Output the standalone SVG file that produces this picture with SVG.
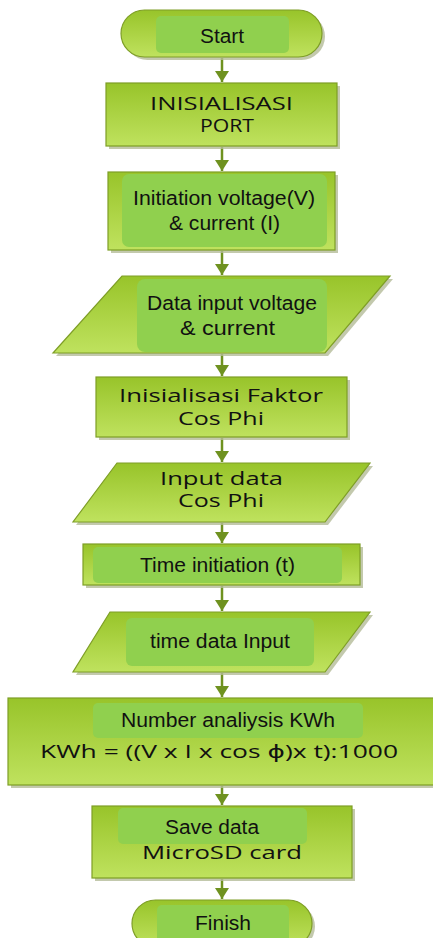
<svg xmlns="http://www.w3.org/2000/svg" width="433" height="938" viewBox="0 0 433 938">
<defs>
<linearGradient id="g" x1="0" y1="0" x2="0" y2="1">
<stop offset="0" stop-color="#98c42a"/>
<stop offset="1" stop-color="#bfe25e"/>
</linearGradient>
<marker id="ah" markerWidth="11" markerHeight="14" refX="11" refY="7" orient="auto" markerUnits="userSpaceOnUse" viewBox="0 0 11 14">
<path d="M0,0 L11,7 L0,14 Z" fill="#6f9220"/>
</marker>
<style>
.shape{fill:url(#g);stroke:#7e9e26;stroke-width:1.2}
.shadow{fill:#b4bc98;opacity:0.8}
.inner{fill:#90d04e}
.a{font-family:"Liberation Sans",Arial,sans-serif;font-size:20px;fill:#111;text-anchor:middle}
.c{font-family:"Open Sans","DejaVu Sans",sans-serif;font-size:18px;fill:#111;text-anchor:middle}
.conn line{stroke:#6f9220;stroke-width:2.5;marker-end:url(#ah)}
</style>
</defs>
<rect width="433" height="938" fill="#fff"/>
<g class="conn">
<line x1="222" y1="58" x2="222" y2="82"/>
<line x1="222" y1="147" x2="222" y2="171"/>
<line x1="222" y1="251" x2="222" y2="275"/>
<line x1="222" y1="354" x2="222" y2="376"/>
<line x1="222" y1="438" x2="222" y2="462"/>
<line x1="222" y1="523" x2="222" y2="543"/>
<line x1="222" y1="586" x2="222" y2="611"/>
<line x1="222" y1="673" x2="222" y2="697"/>
<line x1="222" y1="786" x2="222" y2="805"/>
<line x1="222" y1="879" x2="222" y2="899"/>
</g>
<g id="start">
<rect class="shadow" x="124" y="13" width="201" height="47" rx="23.5"/>
<rect class="shape" x="121" y="10" width="201" height="47" rx="23.5"/>
<rect class="inner" x="156" y="16" width="133" height="37" rx="5"/>
<text class="a" x="222" y="43" textLength="44" lengthAdjust="spacingAndGlyphs">Start</text>
</g>
<g id="init-port">
<rect class="shadow" x="109" y="86" width="231" height="63"/>
<rect class="shape" x="106" y="83" width="231" height="63"/>
<text class="c" x="221.5" y="110" textLength="143" lengthAdjust="spacingAndGlyphs">INISIALISASI</text>
<text class="c" x="227" y="132" textLength="54" lengthAdjust="spacingAndGlyphs">PORT</text>
</g>
<g id="init-vi">
<rect class="shadow" x="111" y="175" width="227" height="78"/>
<rect class="shape" x="108" y="172" width="227" height="78"/>
<rect class="inner" x="122" y="174" width="205" height="73" rx="7"/>
<text class="a" x="224" y="205" textLength="182" lengthAdjust="spacingAndGlyphs">Initiation voltage(V)</text>
<text class="a" x="224.5" y="230" textLength="111" lengthAdjust="spacingAndGlyphs">&amp; current (I)</text>
</g>
<g id="data-vi">
<path class="shadow" d="M125,279 L393,279 L328,356 L56,356 Z"/>
<path class="shape" d="M122,276 L390,276 L325,353 L53,353 Z"/>
<rect class="inner" x="137" y="279" width="190" height="73" rx="8"/>
<text class="a" x="232" y="310" textLength="170" lengthAdjust="spacingAndGlyphs">Data input voltage</text>
<text class="a" x="227.5" y="335" textLength="95" lengthAdjust="spacingAndGlyphs">&amp; current</text>
</g>
<g id="init-cos">
<rect class="shadow" x="99" y="380" width="251" height="60"/>
<rect class="shape" x="96" y="377" width="251" height="60"/>
<text class="c" x="221" y="402" textLength="204" lengthAdjust="spacingAndGlyphs">Inisialisasi Faktor</text>
<text class="c" x="221" y="425" textLength="86" lengthAdjust="spacingAndGlyphs">Cos Phi</text>
</g>
<g id="input-cos">
<path class="shadow" d="M120,466 L373,466 L328,525 L76,525 Z"/>
<path class="shape" d="M117,463 L370,463 L325,522 L73,522 Z"/>
<text class="c" x="221.5" y="485" textLength="123" lengthAdjust="spacingAndGlyphs">Input data</text>
<text class="c" x="221" y="507" textLength="86" lengthAdjust="spacingAndGlyphs">Cos Phi</text>
</g>
<g id="init-time">
<rect class="shadow" x="86" y="547" width="277" height="41"/>
<rect class="shape" x="83" y="544" width="277" height="41"/>
<rect class="inner" x="93" y="547" width="249" height="36" rx="5"/>
<text class="a" x="217.5" y="572" textLength="155" lengthAdjust="spacingAndGlyphs">Time initiation (t)</text>
</g>
<g id="time-input">
<path class="shadow" d="M113,615 L373,615 L328,675 L76,675 Z"/>
<path class="shape" d="M110,612 L370,612 L325,672 L73,672 Z"/>
<rect class="inner" x="126" y="618" width="188" height="48" rx="6"/>
<text class="a" x="220" y="648" textLength="140" lengthAdjust="spacingAndGlyphs">time data Input</text>
</g>
<g id="kwh">
<rect class="shadow" x="11" y="701" width="430" height="87"/>
<rect class="shape" x="8" y="698" width="430" height="87"/>
<rect class="inner" x="93" y="703" width="270" height="35" rx="5"/>
<text class="a" x="228" y="727" textLength="214" lengthAdjust="spacingAndGlyphs">Number analiysis KWh</text>
<text class="c" x="219" y="758" textLength="358" lengthAdjust="spacingAndGlyphs">KWh = ((V x I x cos ϕ)x t):1000</text>
</g>
<g id="save">
<rect class="shadow" x="95" y="809" width="260" height="72"/>
<rect class="shape" x="92" y="806" width="260" height="72"/>
<rect class="inner" x="118" y="808" width="189" height="36" rx="5"/>
<text class="a" x="212" y="834" textLength="94" lengthAdjust="spacingAndGlyphs">Save data</text>
<text class="c" x="222" y="859" textLength="160" lengthAdjust="spacingAndGlyphs">MicroSD card</text>
</g>
<g id="finish">
<rect class="shadow" x="135" y="903" width="180" height="47" rx="23.5"/>
<rect class="shape" x="132" y="900" width="180" height="47" rx="23.5"/>
<rect class="inner" x="157" y="905" width="132" height="40" rx="5"/>
<text class="a" x="223" y="930" textLength="56" lengthAdjust="spacingAndGlyphs">Finish</text>
</g>
</svg>
